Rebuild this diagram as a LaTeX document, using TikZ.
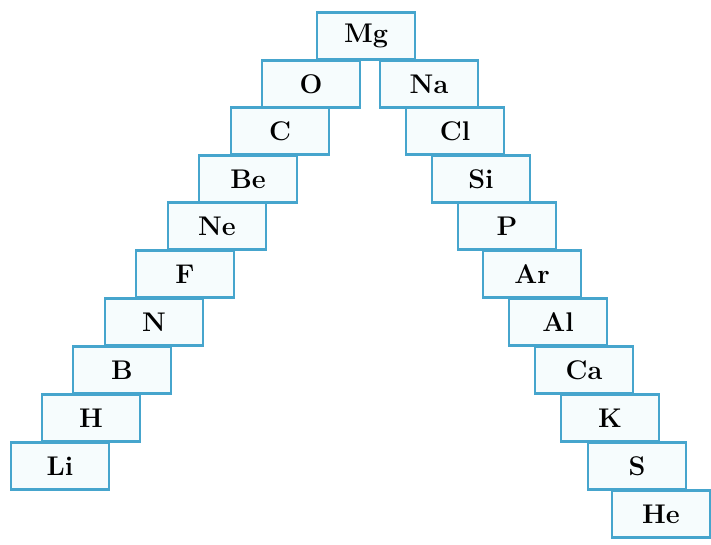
\documentclass[tikz,border=0pt]{standalone}
\usepackage{xcolor}
\definecolor{boxline}{RGB}{70,165,205}
\definecolor{boxfill}{RGB}{246,252,253}
\tikzset{elem/.style={rectangle, draw=boxline, fill=boxfill, line width=1.1pt,
    minimum width=49pt, minimum height=23.5pt, inner sep=0pt,
    font=\fontsize{13.5}{15}\selectfont\bfseries}}
\begin{document}
\begin{tikzpicture}[x=0.5pt,y=-0.5pt]
\useasboundingbox (0,0) rectangle (711,545);
\node[elem] (mg) at (366,36){Mg};
% left side, going down
\node[elem] (o) at (311,84){O};
\node[elem] (c) at (280,131){C};
\node[elem] (be) at (248,179){Be};
\node[elem] (ne) at (217,226){Ne};
\node[elem] (f) at (185,274){F};
\node[elem] (n) at (154,322){N};
\node[elem] (b) at (122,370){B};
\node[elem] (h) at (91,418){H};
\node[elem] (li) at (60,466){Li};
% right side, going down
\node[elem] (na) at (429,84){Na};
\node[elem] (cl) at (455,131){Cl};
\node[elem] (si) at (481,179){Si};
\node[elem] (p) at (507,226){P};
\node[elem] (ar) at (532,274){Ar};
\node[elem] (al) at (558,322){Al};
\node[elem] (ca) at (584,370){Ca};
\node[elem] (k) at (610,418){K};
\node[elem] (s) at (637,466){S};
\node[elem] (he) at (661,514){He};
\end{tikzpicture}
\end{document}
